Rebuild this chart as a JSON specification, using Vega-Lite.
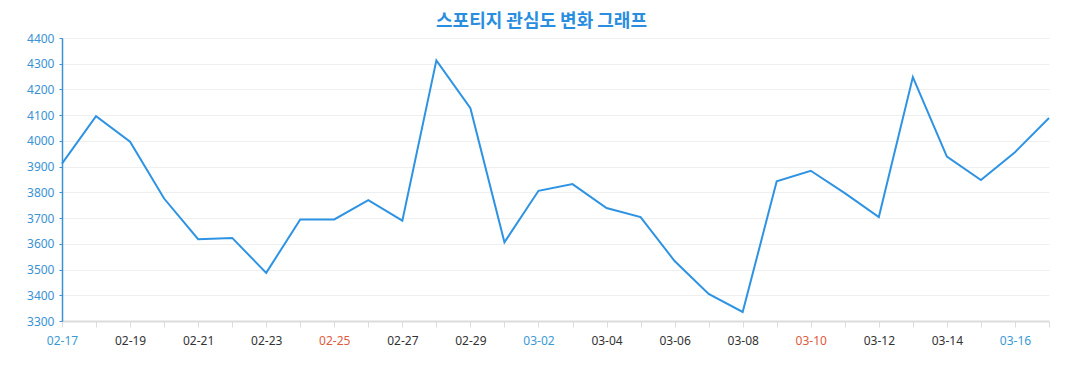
{
  "$schema": "https://vega.github.io/schema/vega-lite/v6.json",
  "autosize": "none",
  "width": 987,
  "height": 283,
  "padding": {"left": 62, "top": 38, "right": 28, "bottom": 69},
  "background": "white",
  "title": {
    "text": "스포티지 관심도 변화 그래프",
    "font": "Noto Sans CJK KR",
    "fontSize": 18,
    "fontWeight": "bold",
    "color": "#2a8ee0",
    "anchor": "middle",
    "dx": -14,
    "offset": 1
  },
  "config": {
    "view": {"stroke": null},
    "font": "Noto Sans"
  },
  "data": {
    "values": [
      {"date": "02-17", "value": 3912},
      {"date": "02-18", "value": 4096},
      {"date": "02-19", "value": 3997},
      {"date": "02-20", "value": 3776},
      {"date": "02-21", "value": 3618},
      {"date": "02-22", "value": 3623},
      {"date": "02-23", "value": 3487},
      {"date": "02-24", "value": 3695},
      {"date": "02-25", "value": 3695},
      {"date": "02-26", "value": 3770},
      {"date": "02-27", "value": 3690},
      {"date": "02-28", "value": 4313},
      {"date": "02-29", "value": 4127},
      {"date": "03-01", "value": 3606},
      {"date": "03-02", "value": 3806},
      {"date": "03-03", "value": 3832},
      {"date": "03-04", "value": 3739},
      {"date": "03-05", "value": 3704},
      {"date": "03-06", "value": 3533},
      {"date": "03-07", "value": 3405},
      {"date": "03-08", "value": 3335},
      {"date": "03-09", "value": 3843},
      {"date": "03-10", "value": 3884},
      {"date": "03-11", "value": 3797},
      {"date": "03-12", "value": 3704},
      {"date": "03-13", "value": 4248},
      {"date": "03-14", "value": 3939},
      {"date": "03-15", "value": 3848},
      {"date": "03-16", "value": 3956},
      {"date": "03-17", "value": 4089}
    ]
  },
  "mark": {"type": "line", "color": "#2e93e3", "strokeWidth": 2},
  "encoding": {
    "x": {
      "field": "date",
      "type": "ordinal",
      "sort": null,
      "scale": {"type": "point", "padding": 0},
      "axis": {
        "title": null,
        "labelAngle": 0,
        "labelFontSize": 12,
        "labelPadding": 8,
        "labelExpr": "((slice(datum.value,0,2)=='02') == (toNumber(slice(datum.value,3)) % 2 == 1)) ? datum.value : ''",
        "labelColor": {"expr": "(datum.value=='02-17'||datum.value=='03-02'||datum.value=='03-16') ? '#3a9ad6' : ((datum.value=='02-25'||datum.value=='03-10') ? '#e05a3c' : '#333333')"},
        "domainColor": "#dcdcdc",
        "domainWidth": 2,
        "tickColor": "#dcdcdc",
        "tickSize": 6,
        "grid": false
      }
    },
    "y": {
      "field": "value",
      "type": "quantitative",
      "scale": {"domain": [3300, 4400], "nice": false, "zero": false},
      "axis": {
        "title": null,
        "format": "d",
        "values": [3300, 3400, 3500, 3600, 3700, 3800, 3900, 4000, 4100, 4200, 4300, 4400],
        "labelFontSize": 12,
        "labelColor": "#3a92d4",
        "labelPadding": 5,
        "domainColor": "#3a92d4",
        "domainWidth": 1.5,
        "tickColor": "#3a92d4",
        "tickSize": 3,
        "gridColor": "#efefef",
        "gridWidth": 1
      }
    }
  }
}
